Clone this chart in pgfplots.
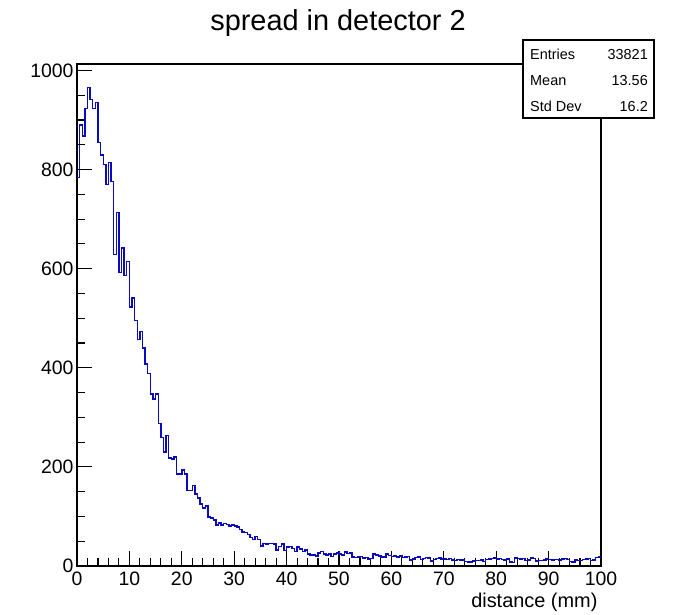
\documentclass[border=0pt]{standalone}
\usepackage{fontspec}
\setmainfont{Liberation Sans}
\usepackage{pgfplots}
\usepackage{pgfplotstable}
\pgfplotsset{compat=1.18}
\definecolor{histblue}{RGB}{10,10,190}
\pgfplotstableread{
x y
0 784
0.5 890
1 868
1.5 923
2 965
2.5 941
3 923
3.5 935
4 854
4.5 829
5 810
5.5 770
6 814
6.5 776
7 628
7.5 713
8 592
8.5 642
9 586
9.5 614
10 523
10.5 541
11 495
11.5 457
12 473
12.5 440
13 408
13.5 388
14 347
14.5 337
15 347
15.5 287
16 259
16.5 230
17 263
17.5 218
18 216
18.5 220
19 186
19.5 186
20 194
20.5 186
21 152
21.5 152
22 162
22.5 145
23 137
23.5 125
24 117
24.5 121
25 99
25.5 97
26 93
26.5 83
27 87
27.5 83
28 86
28.5 84
29 81
29.5 83
30 81
30.5 79
31 74
31.5 69
32 67
32.5 64
33 58
33.5 54
34 59
34.5 53
35 40
35.5 45
36 44
36.5 46
37 46
37.5 44
38 32
38.5 39
39 44
39.5 31
40 38
40.5 39
41 35
41.5 29
42 38
42.5 34
43 29
43.5 32
44 24
44.5 22
45 22
45.5 20
46 26
46.5 29
47 24
47.5 22
48 24
48.5 19
49 24
49.5 26
50 24
50.5 22
51 28
51.5 25
52 26
52.5 18
53 17
53.5 18
54 19
54.5 16
55 17
55.5 14
56 15
56.5 24
57 22
57.5 20
58 18
58.5 18
59 24
59.5 21
60 19
60.5 20
61 18
61.5 20
62 17
62.5 18
63 19
63.5 12
64 14
64.5 17
65 18
65.5 13
66 15
66.5 17
67 16
67.5 10
68 13
68.5 15
69 16
69.5 14
70 14
70.5 13
71 15
71.5 12
72 11
72.5 13
73 12
73.5 12
74 9
74.5 8
75 8
75.5 10
76 11
76.5 11
77 12
77.5 9
78 13
78.5 14
79 15
79.5 16
80 14
80.5 15
81 13
81.5 12
82 14
82.5 8
83 7
83.5 16
84 15
84.5 14
85 15
85.5 11
86 12
86.5 16
87 15
87.5 10
88 11
88.5 11
89 12
89.5 14
90 13
90.5 12
91 13
91.5 13
92 12
92.5 14
93 15
93.5 13
94 9
94.5 8
95 12
95.5 11
96 11
96.5 13
97 14
97.5 15
98 11
98.5 12
99 17
99.5 18
100 18
}\histdata
\begin{document}
\begin{tikzpicture}[x=1bp,y=1bp]
\useasboundingbox (0bp,0bp) rectangle (674bp,615bp);
\begin{axis}[
  at={(77bp,49bp)}, anchor=south west,
  scale only axis, width=524bp, height=502bp,
  xmin=0, xmax=100, ymin=0, ymax=1013,
  xtick={0,10,...,100}, ytick={0,200,...,1000},
  minor x tick num=4, minor y tick num=3,
  xtick pos=bottom, ytick pos=left,
  tick align=inside,
  major tick length=15bp, minor tick length=8bp,
  tick style={black, line width=1.1bp},
  axis line style={line width=1.1bp},
  ticklabel style={font=\fontsize{19.5}{19.5}\selectfont},
  xticklabel style={yshift=-2bp},
  /pgf/number format/assume math mode=true,
  /pgf/number format/1000 sep={},
  clip=false,
]
\addplot[const plot mark left, color=histblue, line width=1.4bp, mark=none] table[x=x,y=y] {\histdata};
\end{axis}
\node[anchor=base, font=\fontsize{29}{29}\selectfont] at (338bp,584bp) {spread in detector 2};
\node[anchor=base east, font=\fontsize{20}{20}\selectfont] at (601bp,8bp) {distance (mm)};
\draw[line width=1.3bp, fill=white] (523bp,497bp) rectangle (654bp,575bp);
\begin{scope}[font=\fontsize{14.5}{14.5}\selectfont]
\node[anchor=base west, inner sep=0] at (530bp,555bp) {Entries};
\node[anchor=base east, inner sep=0] at (648bp,555bp) {33821};
\node[anchor=base west, inner sep=0] at (530bp,529bp) {Mean};
\node[anchor=base east, inner sep=0] at (648bp,529bp) {13.56};
\node[anchor=base west, inner sep=0] at (530bp,503bp) {Std Dev};
\node[anchor=base east, inner sep=0] at (648bp,503bp) {16.2};
\end{scope}
\end{tikzpicture}
\end{document}
